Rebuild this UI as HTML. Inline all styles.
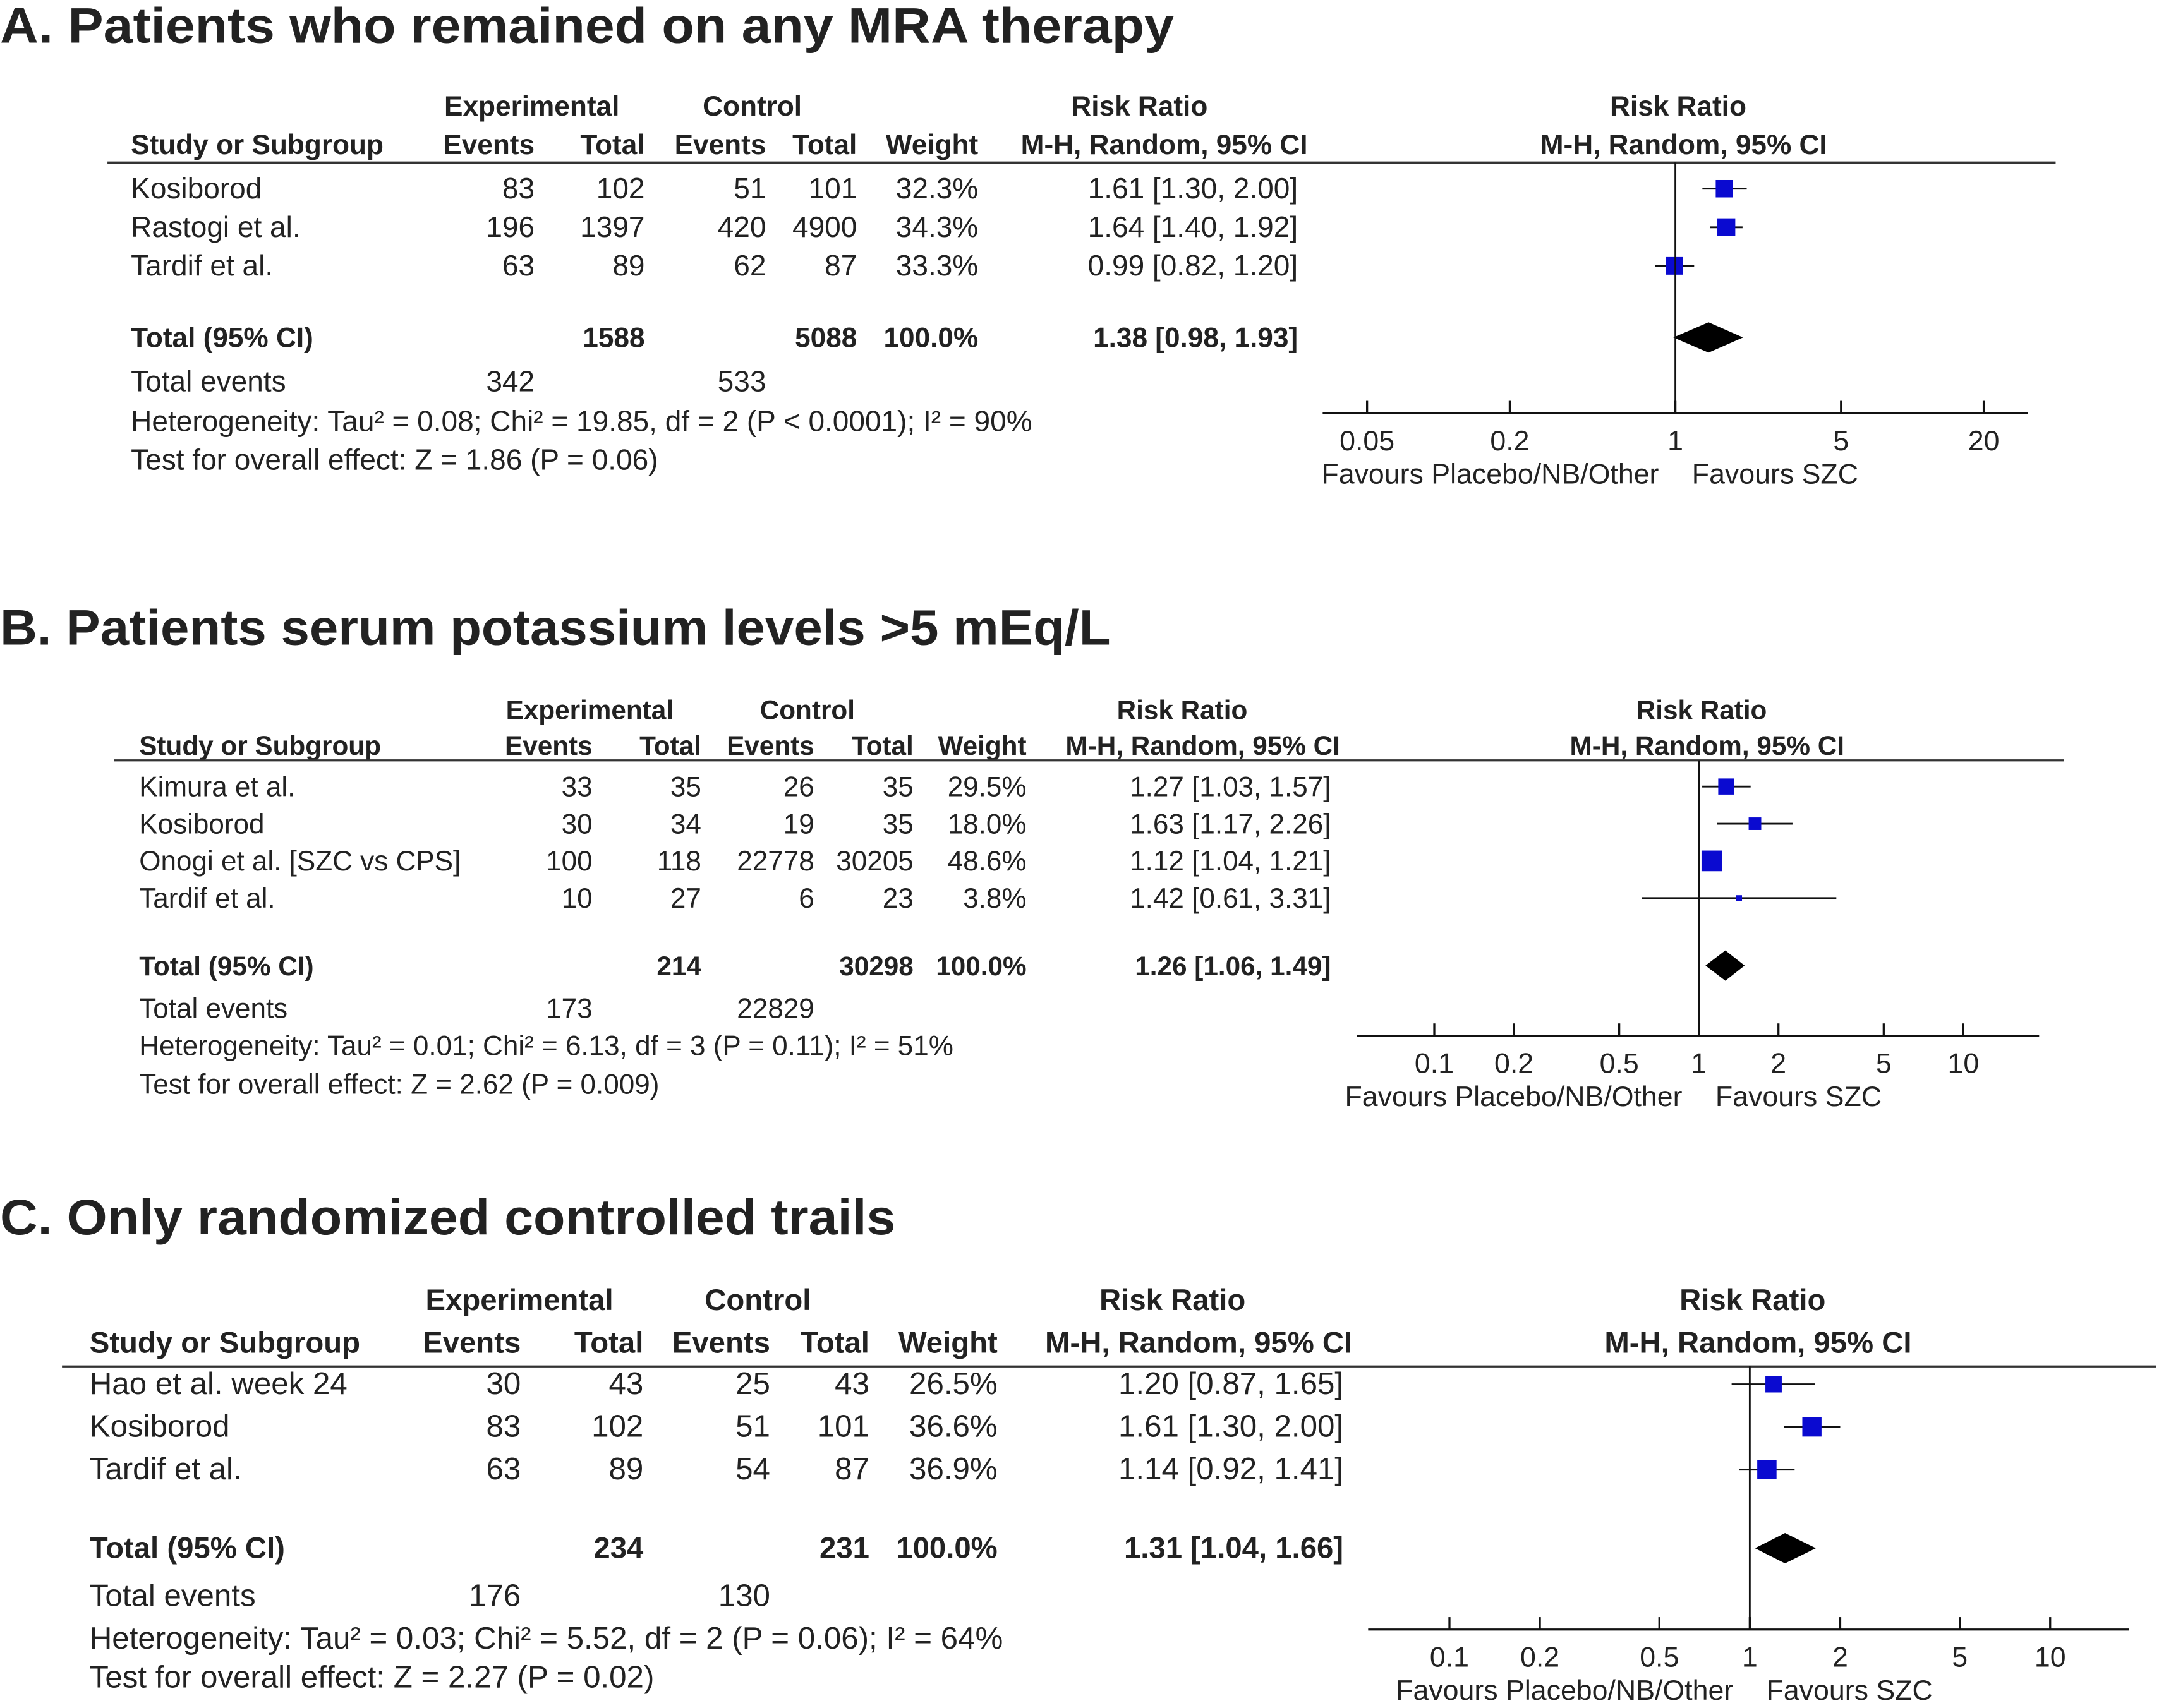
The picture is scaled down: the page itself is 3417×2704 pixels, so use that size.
<!DOCTYPE html>
<html><head><meta charset="utf-8"><style>
html,body{margin:0;padding:0;background:#fff;}
svg{display:block;font-family:"Liberation Sans",Arial,sans-serif;}
</style></head><body>
<svg id="chart" width="3417" height="2704" viewBox="0 0 1567 1240" preserveAspectRatio="none" xmlns="http://www.w3.org/2000/svg"></svg>
<script>
// Panel A data
const aStudies=["Kosiborod","Rastogi et al.","Tardif et al."];
const aExpEvents=[83,196,63];
const aExpTotal=[102,1397,89];
const aCtlEvents=[51,420,62];
const aCtlTotal=[101,4900,87];
const aWeights=[32.3,34.3,33.3];
const aRR=[1.61,1.64,0.99];
const aLo=[1.30,1.40,0.82];
const aHi=[2.00,1.92,1.20];
const aTotal=[1.38,0.98,1.93];
const aTotals=["1588","5088","342","533"];
const aTicks=[0.05,0.2,1,5,20];
// Panel B data
const bStudies=["Kimura et al.","Kosiborod","Onogi et al. [SZC vs CPS]","Tardif et al."];
const bExpEvents=[33,30,100,10];
const bExpTotal=[35,34,118,27];
const bCtlEvents=[26,19,22778,6];
const bCtlTotal=[35,35,30205,23];
const bWeights=[29.5,18.0,48.6,3.8];
const bRR=[1.27,1.63,1.12,1.42];
const bLo=[1.03,1.17,1.04,0.61];
const bHi=[1.57,2.26,1.21,3.31];
const bTotal=[1.26,1.06,1.49];
const bTotals=["214","30298","173","22829"];
const bTicks=[0.1,0.2,0.5,1,2,5,10];
// Panel C data
const cStudies=["Hao et al. week 24","Kosiborod","Tardif et al."];
const cExpEvents=[30,83,63];
const cExpTotal=[43,102,89];
const cCtlEvents=[25,51,54];
const cCtlTotal=[43,101,87];
const cWeights=[26.5,36.6,36.9];
const cRR=[1.20,1.61,1.14];
const cLo=[0.87,1.30,0.92];
const cHi=[1.65,2.00,1.41];
const cTotal=[1.31,1.04,1.66];
const cTotals=["234","231","176","130"];
const cTicks=[0.1,0.2,0.5,1,2,5,10];

const svg=document.getElementById('chart');
const NS="http://www.w3.org/2000/svg";
function el(tag,attrs,parent){const e=document.createElementNS(NS,tag);for(const k in attrs)e.setAttribute(k,attrs[k]);(parent||svg).appendChild(e);return e;}
function txt(g,x,y,s,anchor,weight,size,name){const t=el('text',{x:x,y:y,'text-anchor':anchor||'start','font-size':size,'font-weight':weight||'normal',fill:'#222'},g);


t.textContent=s;return t;}
const f2=v=>v.toFixed(2);

function panel(P){
  const FS=P.fs, BS=P.fs*0.96;
  const g=el('g',{});
  
  
  const sx=v=>P.one+Math.log10(v)*P.dec;
  const c=P.cols, h=P.hy;
  const tt=txt(g,0,P.titleY,P.title,'start','bold',36,'panel-title');
  tt.setAttribute('textLength',P.titleW);
  tt.setAttribute('lengthAdjust','spacingAndGlyphs');
  txt(g,c.expC,h[0],'Experimental','middle','bold',BS,'header-experimental');
  txt(g,c.ctlC,h[0],'Control','middle','bold',BS,'header-control');
  txt(g,c.rrC,h[0],'Risk Ratio','middle','bold',BS,'header-risk-ratio');
  txt(g,P.one+2,h[0],'Risk Ratio','middle','bold',BS,'header-plot-risk-ratio');
  txt(g,c.label,h[1],'Study or Subgroup','start','bold',BS,'header-study');
  txt(g,c.e,h[1],'Events','end','bold',BS,'header-exp-events');
  txt(g,c.t,h[1],'Total','end','bold',BS,'header-exp-total');
  txt(g,c.ce,h[1],'Events','end','bold',BS,'header-ctl-events');
  txt(g,c.ct,h[1],'Total','end','bold',BS,'header-ctl-total');
  txt(g,c.w,h[1],'Weight','end','bold',BS,'header-weight');
  txt(g,c.mhC,h[1],'M-H, Random, 95% CI','middle','bold',BS,'header-method');
  txt(g,P.one+6,h[1],'M-H, Random, 95% CI','middle','bold',BS,'header-plot-method');
  const hl=el('line',{x1:P.lineX[0],x2:P.lineX[1],y1:P.lineY,y2:P.lineY,stroke:'#333','stroke-width':1.5},g);
  
  
  const maxW=Math.max(...P.w);
  P.s.forEach((s,i)=>{
    const y=P.rows[i], ty=y+7;
    txt(g,c.label,ty,s,'start','normal',FS,'study-name');
    txt(g,c.e,ty,P.ee[i],'end','normal',FS,'exp-events');
    txt(g,c.t,ty,P.et[i],'end','normal',FS,'exp-total');
    txt(g,c.ce,ty,P.ce[i],'end','normal',FS,'ctl-events');
    txt(g,c.ct,ty,P.ct[i],'end','normal',FS,'ctl-total');
    txt(g,c.w,ty,P.w[i].toFixed(1)+'%','end','normal',FS,'weight');
    txt(g,c.rr,ty,f2(P.rr[i])+' ['+f2(P.lo[i])+', '+f2(P.hi[i])+']','end','normal',FS,'risk-ratio-ci');
    const l=el('line',{x1:sx(P.lo[i]),x2:sx(P.hi[i]),y1:y,y2:y,stroke:'#111','stroke-width':1.3},g);
    
    
    const sz=P.sq*Math.sqrt(P.w[i]/maxW);
    const r=el('rect',{x:sx(P.rr[i])-sz/2,y:y-sz/2,width:sz,height:sz,fill:'#0a0ad0'},g);
    
    
  });
  const ty=P.totY+7;
  txt(g,c.label,ty,'Total (95% CI)','start','bold',BS,'total-label');
  txt(g,c.t,ty,P.tot[0],'end','bold',BS,'total-exp');
  txt(g,c.ct,ty,P.tot[1],'end','bold',BS,'total-ctl');
  txt(g,c.w,ty,'100.0%','end','bold',BS,'total-weight');
  txt(g,c.rr,ty,f2(P.T[0])+' ['+f2(P.T[1])+', '+f2(P.T[2])+']','end','bold',BS,'total-risk-ratio');
  const d=el('polygon',{points:[[sx(P.T[1]),P.totY],[sx(P.T[0]),P.totY-11],[sx(P.T[2]),P.totY],[sx(P.T[0]),P.totY+11]].map(p=>p.join(',')).join(' '),fill:'#000'},g);
  
  
  txt(g,c.label,P.evY,'Total events','start','normal',FS,'total-events-label');
  txt(g,c.e,P.evY,P.tot[2],'end','normal',FS,'total-exp-events');
  txt(g,c.ce,P.evY,P.tot[3],'end','normal',FS,'total-ctl-events');
  txt(g,c.label,P.hetY,P.het,'start','normal',FS,'heterogeneity');
  txt(g,c.label,P.hetY+28,P.test,'start','normal',FS,'overall-effect-test');
  const vl=el('line',{x1:P.one,x2:P.one,y1:P.lineY,y2:P.axY,stroke:'#111','stroke-width':1.3},g);
  
  
  const ax=el('line',{x1:P.axX[0],x2:P.axX[1],y1:P.axY,y2:P.axY,stroke:'#111','stroke-width':1.5},g);
  
  
  P.ticks.forEach(t=>{
    const tk=el('line',{x1:sx(t),x2:sx(t),y1:P.axY-9,y2:P.axY,stroke:'#111','stroke-width':1.5},g);
    
    
    txt(g,sx(t),P.axY+27,String(t),'middle','normal',20.5,'x-tick-label');
  });
  txt(g,P.one-12,P.axY+51,'Favours Placebo/NB/Other','end','normal',20.5,'favours-left');
  txt(g,P.one+12,P.axY+51,'Favours SZC','start','normal',20.5,'favours-right');
}
panel({name:'panel-a',title:'A. Patients who remained on any MRA therapy',titleY:31,titleW:852,fs:21.1,
 cols:{label:95,e:388,t:468,ce:556,ct:622,w:710,rr:942,expC:386,ctlC:546,rrC:827,mhC:845},hy:[84,112],
 lineY:118,lineX:[78,1492],rows:[137,165,193],totY:245,evY:284,hetY:313,
 s:aStudies,ee:aExpEvents,et:aExpTotal,ce:aCtlEvents,ct:aCtlTotal,w:aWeights,rr:aRR,lo:aLo,hi:aHi,T:aTotal,tot:aTotals,
 het:'Heterogeneity: Tau² = 0.08; Chi² = 19.85, df = 2 (P < 0.0001); I² = 90%',test:'Test for overall effect: Z = 1.86 (P = 0.06)',
 one:1216,dec:172,axY:300,axX:[960,1472],ticks:aTicks,sq:13});
panel({name:'panel-b',title:'B. Patients serum potassium levels >5 mEq/L',titleY:468,titleW:806,fs:20.2,
 cols:{label:101,e:430,t:509,ce:591,ct:663,w:745,rr:966,expC:428,ctlC:586,rrC:858,mhC:873},hy:[522,548],
 lineY:552,lineX:[83,1498],rows:[571,598,625,652],totY:701,evY:739,hetY:766,
 s:bStudies,ee:bExpEvents,et:bExpTotal,ce:bCtlEvents,ct:bCtlTotal,w:bWeights,rr:bRR,lo:bLo,hi:bHi,T:bTotal,tot:bTotals,
 het:'Heterogeneity: Tau² = 0.01; Chi² = 6.13, df = 3 (P = 0.11); I² = 51%',test:'Test for overall effect: Z = 2.62 (P = 0.009)',
 one:1233,dec:192,axY:752,axX:[985,1480],ticks:bTicks,sq:15});
panel({name:'panel-c',title:'C. Only randomized controlled trails',titleY:896,titleW:650,fs:22.6,
 cols:{label:65,e:378,t:467,ce:559,ct:631,w:724,rr:975,expC:377,ctlC:550,rrC:851,mhC:870},hy:[951,982],
 lineY:992,lineX:[45,1565],rows:[1005,1036,1067],totY:1124,evY:1166,hetY:1197,
 s:cStudies,ee:cExpEvents,et:cExpTotal,ce:cCtlEvents,ct:cCtlTotal,w:cWeights,rr:cRR,lo:cLo,hi:cHi,T:cTotal,tot:cTotals,
 het:'Heterogeneity: Tau² = 0.03; Chi² = 5.52, df = 2 (P = 0.06); I² = 64%',test:'Test for overall effect: Z = 2.27 (P = 0.02)',
 one:1270,dec:218,axY:1183,axX:[993,1545],ticks:cTicks,sq:14});
</script>
</body></html>
